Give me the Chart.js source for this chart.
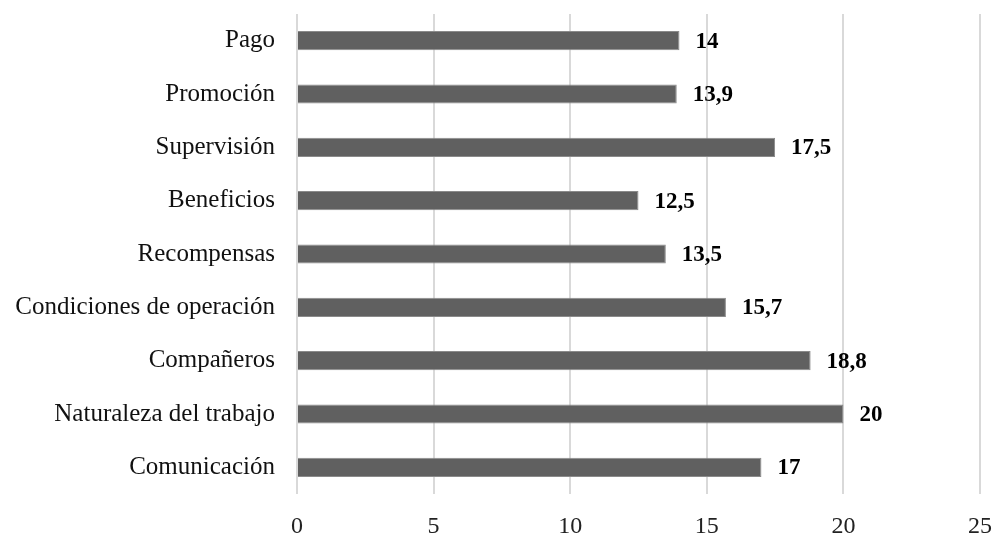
<!DOCTYPE html>
<html>
<head>
<meta charset="utf-8">
<script src="https://cdn.jsdelivr.net/npm/chart.js@4"></script>
<style>
  html, body { margin: 0; padding: 0; background: #fff; }
  #wrap { width: 994px; height: 533px; position: relative; }
</style>
</head>
<body>
<div id="wrap"><canvas id="chart"></canvas></div>
<script>
// data, top to bottom
const categories = ['Pago', 'Promoción', 'Supervisión', 'Beneficios', 'Recompensas',
  'Condiciones de operación', 'Compañeros', 'Naturaleza del trabajo', 'Comunicación'];
const values = [14, 13.9, 17.5, 12.5, 13.5, 15.7, 18.8, 20, 17];
const xTicks = [0, 5, 10, 15, 20, 25];

const FONT = '"Liberation Serif", "DejaVu Serif", serif';

// value labels drawn just right of each bar, comma decimal like the source
const valueLabels = {
  id: 'valueLabels',
  afterDatasetsDraw(chart){
    const ctx = chart.ctx;
    const meta = chart.getDatasetMeta(0);
    ctx.save();
    ctx.font = 'bold 23px ' + FONT;
    ctx.fillStyle = '#000';
    ctx.textAlign = 'left';
    ctx.textBaseline = 'middle';
    meta.data.forEach((bar, i) => {
      const txt = String(values[i]).replace('.', ',');
      ctx.fillText(txt, bar.x + 16, bar.y + 1);
    });
    ctx.restore();
  }
};

new Chart(document.getElementById('chart'), {
  type: 'bar',
  data: {
    labels: categories,
    datasets: [{
      data: values,
      backgroundColor: '#606060',
      borderColor: '#8a8a8a',
      borderWidth: 1,
      categoryPercentage: 1,
      barPercentage: 0.36
    }]
  },
  options: {
    indexAxis: 'y',
    responsive: true,
    maintainAspectRatio: false,
    animation: false,
    layout: { padding: { top: 14, right: 14, bottom: 0, left: 0 } },
    plugins: { legend: { display: false }, tooltip: { enabled: false } },
    scales: {
      x: {
        min: 0, max: 25,
        afterBuildTicks: axis => { axis.ticks = xTicks.map(v => ({ value: v })); },
        afterFit: axis => { axis.height = 39; axis.paddingLeft = 0; axis.paddingRight = 0; },
        grid: { color: '#d9d9d9', lineWidth: 2, drawTicks: false },
        border: { display: false },
        ticks: { color: '#222', padding: 18, maxRotation: 0, font: { family: FONT, size: 24 } }
      },
      y: {
        afterFit: axis => { axis.width = 297; axis.paddingTop = 0; axis.paddingBottom = 0; },
        grid: { display: false, drawTicks: false },
        border: { display: false },
        ticks: { color: '#111', padding: 22, font: { family: FONT, size: 25 } }
      }
    }
  },
  plugins: [valueLabels]
});
</script>
</body>
</html>
